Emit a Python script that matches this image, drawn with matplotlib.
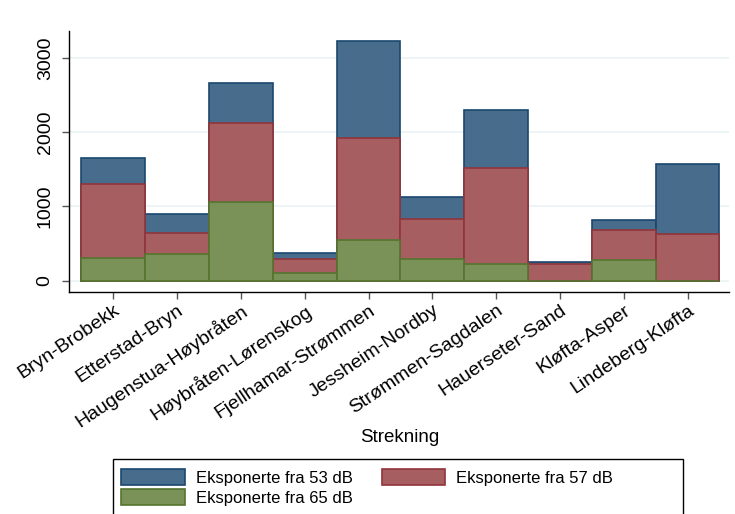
import matplotlib
matplotlib.use("Agg")
import matplotlib.pyplot as plt
from matplotlib.patches import Rectangle
import numpy as np

plt.rcParams['font.family'] = ['Liberation Sans', 'DejaVu Sans']

strekning = ["Bryn-Brobekk", "Etterstad-Bryn", "Haugenstua-Høybråten",
             "Høybråten-Lørenskog", "Fjellhamar-Strømmen", "Jessheim-Nordby",
             "Strømmen-Sagdalen", "Hauerseter-Sand", "Kløfta-Asper",
             "Lindeberg-Kløfta"]
eksp_53 = [1647, 893, 2657, 369, 3222, 1122, 2293, 248, 817, 1575]
eksp_57 = [1297, 638, 2118, 288, 1925, 835, 1513, 221, 686, 633]
eksp_65 = [305, 355, 1055, 108, 548, 288, 229, 0, 274, 0]
yticks = [0, 1000, 2000, 3000]

fig = plt.figure(figsize=(7.35, 5.14), dpi=100)
W, H = 735, 514
ax = fig.add_axes([69 / W, 1 - 292 / H, (729 - 69) / W, (292 - 31) / H])

x = np.arange(1, len(strekning) + 1)
series = [
    (eksp_53, "#486c8c", "#1a476f", "Eksponerte fra 53 dB"),
    (eksp_57, "#a65e61", "#90353b", "Eksponerte fra 57 dB"),
    (eksp_65, "#7a9258", "#55752f", "Eksponerte fra 65 dB"),
]
handles = []
for vals, fc, ec, lab in series:
    b = ax.bar(x, vals, width=1.0, color=fc, edgecolor=ec, linewidth=1.2,
               label=lab, zorder=3)
    handles.append(b)

ax.set_xlim(0.305, 10.65)
ax.set_ylim(-152, 3361)
ax.set_yticks(yticks)
ax.set_yticklabels([str(v) for v in yticks], rotation=90, va='center',
                   fontsize=14)
ax.yaxis.grid(True, color="#eaf2f3", linewidth=1.2, zorder=0)
ax.set_xticks(x)
ax.set_xticklabels(strekning, rotation=34, ha='right',
                   rotation_mode='anchor', fontsize=14)
ax.tick_params(axis='both', length=5, width=1, color="#555555")
ax.tick_params(axis='y', pad=6)
ax.tick_params(axis='x', pad=2)
for side in ["top", "right"]:
    ax.spines[side].set_visible(False)
for side in ["left", "bottom"]:
    ax.spines[side].set_color("black")
    ax.spines[side].set_linewidth(1)

fig.text(400 / W, 1 - 437 / H, "Strekning", ha='center', va='center',
         fontsize=13.5)

# legend box (runs off the bottom edge)
fig.patches.append(Rectangle((113 / W, -0.05), (683 - 113) / W,
                             (1 - 459 / H) + 0.05,
                             transform=fig.transFigure, fill=False,
                             edgecolor="black", linewidth=1))

leg = fig.legend([handles[0], handles[2], handles[1]],
                 [series[0][3], series[2][3], series[1][3]],
                 ncol=2, loc='upper left',
                 bbox_to_anchor=(113 / W, 1 - 461 / H),
                 fontsize=12, frameon=False, borderpad=0,
                 handlelength=3.8, handleheight=1.05,
                 columnspacing=1.74, handletextpad=0.66, labelspacing=0.2)

fig.savefig("out.png", dpi=100, facecolor="white")
